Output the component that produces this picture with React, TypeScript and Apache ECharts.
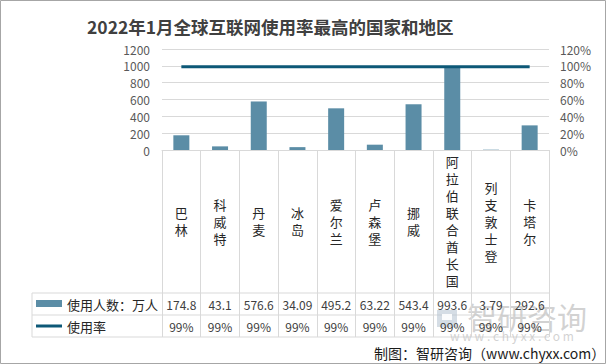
import React, { useEffect, useRef } from "react";
import * as echarts from "echarts";

const titleText = "2022年1月全球互联网使用率最高的国家和地区";
const categories = ["巴林", "科威特", "丹麦", "冰岛", "爱尔兰", "卢森堡", "挪威", "阿拉伯联合酋长国", "列支敦士登", "卡塔尔"];
const users = [174.8, 43.1, 576.6, 34.09, 495.2, 63.22, 543.4, 993.6, 3.79, 292.6];
const rates = [99, 99, 99, 99, 99, 99, 99, 99, 99, 99];
const seriesNames = ["使用人数：万人", "使用率"];
const sourceText = "制图：智研咨询（www.chyxx.com）";
const watermarkMain = "智研咨询";
const watermarkSub = "w w w . c h y x x . c o m";

const FONT = "'Noto Sans CJK SC', 'Noto Sans', sans-serif";
const BAR_COLOR = "#5b8da6";
const LINE_COLOR = "#0d5877";
const GRID_COLOR = "#d9d9d9";

export default function App() {
  const ref = useRef<HTMLDivElement>(null);
  useEffect(() => {
    if (!ref.current) return;
    const chart = echarts.init(ref.current, null, { renderer: "svg" });
    const gl = 162, gr = 549, gt = 49, gb = 150;
    const row1 = 293, row2 = 315, row3 = 337, tableLeft = 32;
    const option: any = {
      animation: false,
      backgroundColor: "#fff",
      textStyle: { fontFamily: FONT },
      title: {
        text: titleText,
        left: 82,
        top: 13,
        textStyle: { fontSize: 17.5, fontWeight: "bold", color: "#404040", fontFamily: FONT },
      },
      grid: { left: gl, right: 606 - gr, top: gt, bottom: 364 - gb, containLabel: false },
      xAxis: [
        {
          type: "category",
          data: categories,
          axisLine: { show: true, lineStyle: { color: GRID_COLOR } },
          axisTick: { show: true, length: row3 - gb, lineStyle: { color: GRID_COLOR } },
          axisLabel: {
            interval: 0,
            margin: 71,
            verticalAlign: "middle",
            lineHeight: 17,
            fontSize: 13,
            color: "#262626",
            fontFamily: FONT,
            formatter: (v: string) => v.split("").join("\n"),
          },
        },
        {
          type: "category",
          position: "bottom",
          offset: 0,
          data: users.map((v) => String(v)),
          axisLine: { show: false },
          axisTick: { show: false },
          axisLabel: { interval: 0, margin: (row1 + row2) / 2 - gb, verticalAlign: "middle", fontSize: 12, color: "#404040", fontFamily: FONT },
        },
        {
          type: "category",
          position: "bottom",
          offset: 0,
          data: rates.map((v) => v + "%"),
          axisLine: { show: false },
          axisTick: { show: false },
          axisLabel: { interval: 0, margin: (row2 + row3) / 2 - gb, verticalAlign: "middle", fontSize: 12, color: "#404040", fontFamily: FONT },
        },
      ],
      yAxis: [
        {
          type: "value",
          min: 0,
          max: 1200,
          interval: 200,
          axisLine: { show: false },
          axisTick: { show: false },
          axisLabel: { margin: 12, fontSize: 12, color: "#595959", fontFamily: FONT, formatter: (v: number) => String(v) },
          splitLine: { show: true, lineStyle: { color: GRID_COLOR } },
        },
        {
          type: "value",
          min: 0,
          max: 120,
          interval: 20,
          axisLine: { show: false },
          axisTick: { show: false },
          axisLabel: { margin: 11, fontSize: 12, color: "#595959", formatter: "{value}%", fontFamily: FONT },
          splitLine: { show: false },
        },
      ],
      series: [
        {
          name: seriesNames[0],
          type: "bar",
          data: users,
          barWidth: 16,
          itemStyle: { color: BAR_COLOR },
        },
        {
          name: seriesNames[1],
          type: "line",
          yAxisIndex: 1,
          data: rates,
          symbol: "none",
          lineStyle: { color: LINE_COLOR, width: 3 },
          itemStyle: { color: LINE_COLOR },
        },
      ],
      graphic: [
        // outer frame
        { type: "rect", shape: { x: 0.5, y: 0.5, width: 605, height: 363 }, style: { fill: "none", stroke: "#a6a6a6", lineWidth: 1 }, silent: true },
        // table horizontal lines
        { type: "line", shape: { x1: tableLeft, y1: row1, x2: gr, y2: row1 }, style: { stroke: GRID_COLOR, lineWidth: 1 } },
        { type: "line", shape: { x1: tableLeft, y1: row2, x2: gr, y2: row2 }, style: { stroke: GRID_COLOR, lineWidth: 1 } },
        { type: "line", shape: { x1: tableLeft, y1: row3, x2: gr, y2: row3 }, style: { stroke: GRID_COLOR, lineWidth: 1 } },
        { type: "line", shape: { x1: tableLeft, y1: row1, x2: tableLeft, y2: row3 }, style: { stroke: GRID_COLOR, lineWidth: 1 } },
        // legend keys
        { type: "rect", shape: { x: 36, y: 300, width: 26, height: 7 }, style: { fill: BAR_COLOR } },
        { type: "line", shape: { x1: 36, y1: 326, x2: 62, y2: 326 }, style: { stroke: LINE_COLOR, lineWidth: 3 } },
        { type: "text", x: 67, y: 304, style: { text: seriesNames[0], fill: "#262626", font: `13px ${FONT}`, verticalAlign: "middle" } },
        { type: "text", x: 67, y: 326, style: { text: seriesNames[1], fill: "#262626", font: `13px ${FONT}`, verticalAlign: "middle" } },
        // watermark
        { type: "rect", shape: { x: 437, y: 310, width: 20, height: 17 }, style: { fill: "#b9c7d3", opacity: 0.6 } },
        { type: "rect", shape: { x: 442, y: 314, width: 10, height: 6 }, style: { fill: "#ffffff", opacity: 0.9 } },
        { type: "text", x: 467, y: 316, style: { text: watermarkMain, font: `30px ${FONT}`, fill: "#c4c4c4", verticalAlign: "middle", opacity: 0.75 } },
        { type: "text", x: 450, y: 335, style: { text: watermarkSub, font: `12px ${FONT}`, fill: "#c4c4c4", verticalAlign: "middle", opacity: 0.75 } },
        // source
        { type: "text", x: 374, y: 353, style: { text: sourceText, font: `14px ${FONT}`, fill: "#1a1a1a", verticalAlign: "middle" } },
      ],
    };
    chart.setOption(option);
    return () => chart.dispose();
  }, []);
  return <div ref={ref} style={{ position: "fixed", left: 0, top: 0, width: 606, height: 364 }} />;
}
